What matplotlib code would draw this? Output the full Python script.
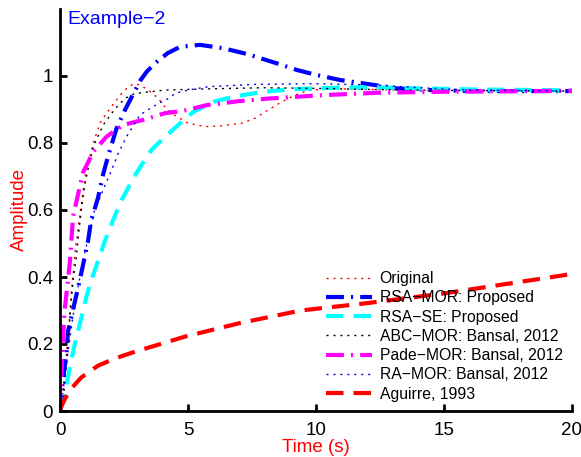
import matplotlib
matplotlib.use("Agg")
import matplotlib.pyplot as plt

plt.rcParams['font.family'] = ['Liberation Sans', 'DejaVu Sans']

MINUS = "\u2212"

# values
t_original = [0, 0.1, 0.2, 0.33, 0.44, 0.6, 0.8, 1.0, 1.3, 1.56, 1.82, 2.15, 2.41, 2.67, 2.9,
              3.13, 3.45, 3.84, 4.1, 4.5, 5.0, 5.66, 6.3, 7.1, 7.62, 8.14, 8.66, 9.18, 9.7,
              10.5, 12, 14, 17, 20]
y_original = [0, 0.05, 0.12, 0.24, 0.35, 0.48, 0.6, 0.71, 0.8, 0.859, 0.889, 0.923, 0.948,
              0.968, 0.977, 0.973, 0.958, 0.933, 0.908, 0.882, 0.859, 0.849, 0.851, 0.859,
              0.874, 0.899, 0.923, 0.943, 0.957, 0.962, 0.96, 0.957, 0.955, 0.955]

t_rsa_mor = [0, 0.12, 0.25, 0.31, 0.44, 0.7, 0.9, 1.09, 1.22, 1.48, 1.68, 1.89, 2.21, 2.54,
             2.9, 3.15, 3.39, 3.71, 4.2, 4.69, 5.47, 6.37, 7.29, 8.46, 9.25, 10.03, 10.94,
             12.3, 13.15, 14.45, 16, 18, 20]
y_rsa_mor = [0, 0.098, 0.167, 0.237, 0.28, 0.366, 0.436, 0.505, 0.57, 0.635, 0.705, 0.764,
             0.844, 0.899, 0.952, 0.988, 1.013, 1.038, 1.068, 1.087, 1.093, 1.083, 1.066,
             1.038, 1.018, 1.003, 0.988, 0.973, 0.963, 0.958, 0.955, 0.955, 0.955]

t_rsa_se = [0, 0.1, 0.25, 0.38, 0.57, 0.83, 1.03, 1.22, 1.48, 1.74, 2.13, 2.41, 2.9, 3.19,
            3.58, 4.04, 4.62, 5.21, 5.99, 6.77, 7.94, 8.98, 9.9, 11.2, 12.4, 14, 16, 20]
y_rsa_se = [0, 0.04, 0.078, 0.127, 0.197, 0.277, 0.34, 0.39, 0.446, 0.505, 0.58, 0.63, 0.7,
            0.735, 0.78, 0.814, 0.854, 0.893, 0.923, 0.938, 0.953, 0.96, 0.963, 0.966,
            0.966, 0.963, 0.96, 0.957]

t_abc = [0, 0.13, 0.2, 0.33, 0.44, 0.51, 0.64, 0.7, 0.83, 0.98, 1.09, 1.3, 1.69, 2.02, 2.28,
         2.54, 2.93, 3.52, 4.1, 5, 6, 8, 10, 12, 15, 20]
y_abc = [0, 0.03, 0.1, 0.22, 0.33, 0.39, 0.46, 0.51, 0.6, 0.68, 0.72, 0.79, 0.854, 0.889,
         0.913, 0.933, 0.948, 0.953, 0.958, 0.96, 0.962, 0.965, 0.963, 0.96, 0.957, 0.955]

t_pade = [0, 0.05, 0.12, 0.18, 0.29, 0.38, 0.44, 0.51, 0.7, 0.9, 1.3, 1.82, 2.47, 3.25, 4.1,
          4.82, 5.73, 7, 8.2, 10.3, 12.4, 15, 20]
y_pade = [0, 0.1, 0.22, 0.3, 0.376, 0.44, 0.505, 0.58, 0.645, 0.712, 0.774, 0.819, 0.854,
          0.869, 0.889, 0.896, 0.913, 0.925, 0.933, 0.943, 0.95, 0.953, 0.956]

t_ra = [0, 0.15, 0.3, 0.5, 0.77, 0.96, 1.16, 1.35, 1.74, 2.02, 2.28, 2.6, 3.125, 3.52, 3.84,
        4.17, 4.5, 5.0, 5.8, 7.6, 10, 12.4, 14, 16, 20]
y_ra = [0, 0.08, 0.17, 0.28, 0.396, 0.47, 0.535, 0.6, 0.67, 0.72, 0.77, 0.819, 0.884, 0.903,
        0.918, 0.93, 0.948, 0.958, 0.968, 0.975, 0.977, 0.973, 0.965, 0.958, 0.955]

t_aguirre = [0, 0.05, 0.15, 0.38, 0.83, 1.48, 2.15, 2.93, 4.23, 4.88, 7, 9.4, 12, 15, 17.5, 20]
y_aguirre = [0, 0.012, 0.03, 0.062, 0.1, 0.135, 0.157, 0.177, 0.207, 0.222, 0.262, 0.3,
             0.322, 0.351, 0.38, 0.409]

labels = ["Original", "RSA" + MINUS + "MOR: Proposed", "RSA" + MINUS + "SE: Proposed",
          "ABC" + MINUS + "MOR: Bansal, 2012", "Pade" + MINUS + "MOR: Bansal, 2012",
          "RA" + MINUS + "MOR: Bansal, 2012", "Aguirre, 1993"]

DOTTED = (0, (1.5, 3.5))
DASHED = (0, (4.2, 2.4))
DASHDOT = (0, (4.3, 1.7, 0.5, 1.7))

fig = plt.figure(figsize=(5.81, 4.57), dpi=100)
ax = fig.add_axes([60 / 581, 46 / 457, 512 / 581, 402 / 457])

ax.plot(t_original, y_original, color='#ff0000', linestyle=DOTTED, linewidth=1.0,
        label=labels[0])
ax.plot(t_rsa_mor, y_rsa_mor, color='#0000ff', linestyle=DASHDOT, linewidth=3.0,
        label=labels[1])
ax.plot(t_rsa_se, y_rsa_se, color='#00ffff', linestyle=DASHED, linewidth=3.0, label=labels[2])
ax.plot(t_abc, y_abc, color='#000000', linestyle=DOTTED, linewidth=1.0, label=labels[3])
ax.plot(t_pade, y_pade, color='#ff00ff', linestyle=DASHDOT, linewidth=3.0, label=labels[4])
ax.plot(t_ra, y_ra, color='#0000ff', linestyle=DOTTED, linewidth=1.0, label=labels[5])
ax.plot(t_aguirre, y_aguirre, color='#ff0000', linestyle=DASHED, linewidth=3.0,
        label=labels[6])

ax.set_xlim(0, 20)
ax.set_ylim(0, 1.2)
ax.set_xticks([0, 5, 10, 15, 20])
ax.set_yticks([0, 0.2, 0.4, 0.6, 0.8, 1.0])
ax.set_yticklabels(["0", "0.2", "0.4", "0.6", "0.8", "1"])
ax.spines['top'].set_visible(False)
ax.spines['right'].set_visible(False)
ax.spines['left'].set_linewidth(2)
ax.spines['bottom'].set_linewidth(2)
ax.tick_params(direction='in', length=5, width=2, labelsize=13.5)
ax.tick_params(axis='x', pad=8)
ax.tick_params(axis='y', pad=5)

ax.set_xlabel("Time (s)", color='#ff0000', fontsize=13.5, labelpad=0)
ax.set_ylabel("Amplitude", color='#ff0000', fontsize=13.5, labelpad=-1)
ax.text(0.3, 1.17, "Example" + MINUS + "2", color='#0000ff', fontsize=14, va='center')

ax.legend(loc='lower right', bbox_to_anchor=(1.0, 0.0), frameon=False, fontsize=11.3,
          handlelength=2.9, handletextpad=0.5, labelspacing=0.27, borderaxespad=0.2)

fig.savefig("out.png", dpi=100)
